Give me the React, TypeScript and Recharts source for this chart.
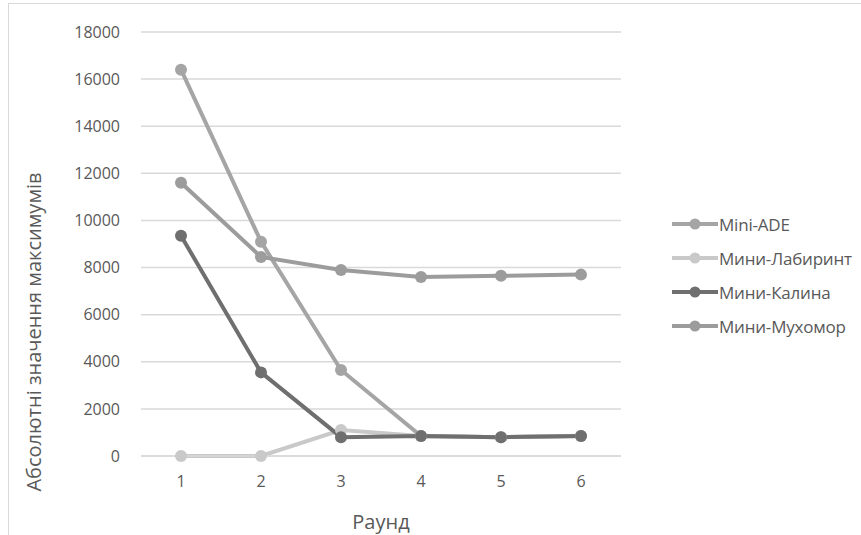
import { LineChart, Line, XAxis, YAxis, CartesianGrid, Legend, Label } from 'recharts'

const ROUNDS = ['1', '2', '3', '4', '5', '6']
const MINI_ADE = [16400, 9100, 3650, 850, 800, 850]
const MINI_LABYRINTH = [0, 0, 1100, 850, 800, 850]
const MINI_KALINA = [9350, 3550, 800, 850, 800, 850]
const MINI_MUKHOMOR = [11600, 8450, 7900, 7600, 7650, 7700]
const Y_TICKS = [0, 2000, 4000, 6000, 8000, 10000, 12000, 14000, 16000, 18000]

const SERIES = [
    { key: 'ade', name: 'Mini-ADE', values: MINI_ADE, color: '#a5a5a5' },
    { key: 'lab', name: 'Мини-Лабиринт', values: MINI_LABYRINTH, color: '#c9c9c9' },
    { key: 'kal', name: 'Мини-Калина', values: MINI_KALINA, color: '#6f6f6f' },
    { key: 'muk', name: 'Мини-Мухомор', values: MINI_MUKHOMOR, color: '#9c9c9c' },
]

const data = ROUNDS.map((r, i) => {
    const row: Record<string, string | number> = { round: r }
    SERIES.forEach(s => { row[s.key] = s.values[i] })
    return row
})

const FONT = '"Open Sans", sans-serif'
const TEXT = '#595959'

function LegendList() {
    return (
        <div style={{ fontFamily: FONT, fontSize: 17, color: TEXT }}>
            {SERIES.map(s => (
                <div key={s.key} style={{ display: 'flex', alignItems: 'center', height: 34 }}>
                    <svg width={48} height={14} style={{ display: 'block' }}>
                        <line x1={1} y1={7} x2={47} y2={7} stroke={s.color} strokeWidth={4} />
                        <circle cx={24} cy={7} r={5.5} fill={s.color} />
                    </svg>
                    <span style={{ marginLeft: 0, whiteSpace: 'nowrap', letterSpacing: -0.2 }}>{s.name}</span>
                </div>
            ))}
        </div>
    )
}

export default function App() {
    return (
        <div style={{ position: 'absolute', left: 0, top: 0, width: 861, height: 535, overflow: 'hidden', background: '#fff' }}>
            <div style={{ position: 'absolute', left: 8, top: 3, width: 900, height: 600, border: '1px solid #d9d9d9' }} />
            <div style={{ position: 'absolute', left: 0, top: 0 }}>
                <LineChart width={861} height={535} data={data} margin={{ top: 32, right: 50, bottom: 49, left: 81 }}>
                    <CartesianGrid vertical={false} stroke="#d9d9d9" strokeWidth={1.5} />
                    <XAxis
                        dataKey="round"
                        height={30}
                        padding={{ left: 40, right: 40 }}
                        axisLine={{ stroke: '#d9d9d9', strokeWidth: 1.5 }}
                        tickLine={false}
                        tickSize={0}
                        tickMargin={20}
                        tick={{ fill: TEXT, fontSize: 16, fontFamily: FONT }}
                    >
                        <Label
                            content={() => (
                                <text x={381} y={521} textAnchor="middle" dominantBaseline="central" fill={TEXT} fontSize={20} fontFamily={FONT}>
                                    Раунд
                                </text>
                            )}
                        />
                    </XAxis>
                    <YAxis
                        width={60}
                        domain={[0, 18000]}
                        ticks={Y_TICKS}
                        axisLine={false}
                        tickLine={false}
                        tickSize={0}
                        tickMargin={21}
                        tick={{ fill: TEXT, fontSize: 16, fontFamily: FONT }}
                    >
                        <Label
                            content={() => (
                                <text
                                    x={33}
                                    y={332}
                                    transform="rotate(-90 33 332)"
                                    textAnchor="middle"
                                    dominantBaseline="central"
                                    fill={TEXT}
                                    fontSize={20}
                                    fontFamily={FONT}
                                >
                                    Абсолютні значення максимумів
                                </text>
                            )}
                        />
                    </YAxis>
                    <Legend
                        layout="horizontal"
                        verticalAlign="middle"
                        align="right"
                        content={() => <LegendList />}
                        wrapperStyle={{ left: 671, top: 207, width: 190 }}
                    />
                    {SERIES.map(s => (
                        <Line
                            key={s.key}
                            dataKey={s.key}
                            name={s.name}
                            type="linear"
                            stroke={s.color}
                            strokeWidth={4}
                            dot={{ r: 6, fill: s.color, stroke: s.color, strokeWidth: 0 }}
                            activeDot={false}
                            isAnimationActive={false}
                        />
                    ))}
                </LineChart>
            </div>
        </div>
    )
}
